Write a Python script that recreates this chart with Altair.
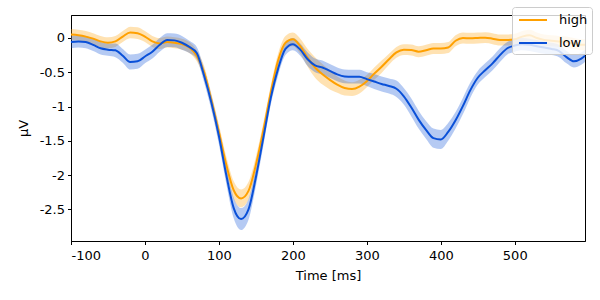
import altair as alt
import pandas as pd

# Sample times (ms)
times = [-100, -90, -80, -70, -60, -50, -40, -30, -20, -10,
         0, 10, 20, 30, 40, 50, 60, 70, 80, 90,
         100, 110, 120, 130, 140, 150, 160, 170, 180, 190,
         200, 210, 220, 230, 240, 250, 260, 270, 280, 290,
         300, 310, 320, 330, 340, 350, 360, 370, 380, 390,
         400, 410, 420, 430, 440, 450, 460, 470, 480, 490,
         500, 510, 520, 530, 540, 550, 560, 570, 580, 590, 595]

# Mean amplitude (µV), condition "high"
high_mean = [0.05, 0.04, 0.02, -0.01, -0.05, -0.07, -0.05, 0.02, 0.08, 0.07,
             0.02, -0.05, -0.08, -0.06, -0.07, -0.09, -0.14, -0.26, -0.50, -0.92,
             -1.37, -1.85, -2.22, -2.34, -2.23, -1.85, -1.35, -0.80, -0.33, -0.07,
             -0.02, -0.12, -0.29, -0.43, -0.53, -0.61, -0.68, -0.73, -0.745, -0.71,
             -0.63, -0.52, -0.42, -0.31, -0.21, -0.17, -0.175, -0.20, -0.18, -0.155,
             -0.155, -0.14, -0.04, 0.0, -0.005, 0.0, 0.005, -0.01, -0.03, -0.03,
             -0.02, 0.02, 0.04, 0.0, -0.03, -0.04, -0.05, -0.06, -0.08, -0.10, -0.10]

# Confidence half-width, condition "high"
high_ci = [0.08, 0.08, 0.08, 0.08, 0.08, 0.08, 0.08, 0.08, 0.085, 0.085,
           0.08, 0.08, 0.08, 0.08, 0.08, 0.08, 0.08, 0.08, 0.09, 0.1,
           0.11, 0.12, 0.13, 0.13, 0.13, 0.12, 0.11, 0.1, 0.1, 0.1,
           0.1, 0.11, 0.13, 0.15, 0.15, 0.14, 0.12, 0.11, 0.1, 0.1,
           0.09, 0.09, 0.09, 0.08, 0.08, 0.08, 0.08, 0.08, 0.08, 0.08,
           0.08, 0.08, 0.08, 0.08, 0.08, 0.08, 0.08, 0.08, 0.08, 0.08,
           0.08, 0.08, 0.08, 0.08, 0.08, 0.08, 0.08, 0.08, 0.08, 0.08, 0.08]

# Mean amplitude (µV), condition "low"
low_mean = [-0.06, -0.05, -0.06, -0.10, -0.15, -0.17, -0.18, -0.26, -0.35, -0.34,
            -0.27, -0.20, -0.10, -0.03, -0.035, -0.07, -0.13, -0.22, -0.55, -0.95,
            -1.43, -2.00, -2.48, -2.64, -2.50, -2.03, -1.46, -0.88, -0.45, -0.16,
            -0.09, -0.17, -0.31, -0.40, -0.43, -0.48, -0.53, -0.56, -0.565, -0.565,
            -0.60, -0.635, -0.67, -0.70, -0.74, -0.85, -1.01, -1.19, -1.34, -1.46,
            -1.48, -1.37, -1.20, -0.99, -0.76, -0.58, -0.47, -0.37, -0.25, -0.15,
            -0.11, -0.09, -0.10, -0.12, -0.14, -0.16, -0.19, -0.28, -0.34, -0.30, -0.26]

# Confidence half-width, condition "low"
low_ci = [0.09, 0.09, 0.09, 0.09, 0.09, 0.09, 0.1, 0.1, 0.11, 0.11,
          0.1, 0.1, 0.1, 0.1, 0.1, 0.1, 0.09, 0.09, 0.1, 0.11,
          0.12, 0.13, 0.15, 0.16, 0.15, 0.13, 0.12, 0.1, 0.1, 0.09,
          0.09, 0.09, 0.1, 0.1, 0.1, 0.1, 0.1, 0.1, 0.1, 0.1,
          0.1, 0.11, 0.11, 0.11, 0.12, 0.12, 0.13, 0.13, 0.13, 0.14,
          0.14, 0.13, 0.12, 0.12, 0.11, 0.1, 0.1, 0.1, 0.1, 0.09,
          0.09, 0.09, 0.09, 0.09, 0.09, 0.09, 0.09, 0.09, 0.09, 0.09, 0.09]

conditions = ["high", "low"]
colors = ["#ffa000", "#0a50d8"]

x_ticks = [-100, 0, 100, 200, 300, 400, 500]
y_ticks = [0, -0.5, -1, -1.5, -2, -2.5]

rows = []
for cond, means, cis in [("high", high_mean, high_ci), ("low", low_mean, low_ci)]:
    for t, m, c in zip(times, means, cis):
        rows.append({"condition": cond, "time": t, "mean": m,
                     "lo": m - c, "hi": m + c})
df = pd.DataFrame(rows)

FONT = "DejaVu Sans"
# Long horizontal swatch for the legend entries (wider than the symbol slot)
SWATCH = "M-0.75,0H2.75"

x_enc = alt.X("time:Q",
              scale=alt.Scale(domain=[-100, 595], nice=False, zero=False),
              axis=alt.Axis(values=x_ticks, title="Time [ms]",
                            labelExpr="toString(datum.value)"))
y_scale = alt.Scale(domain=[-2.96, 0.335], nice=False, zero=False)
y_axis = alt.Axis(values=y_ticks, title="µV", labelExpr="toString(datum.value)")
legend = alt.Legend(title=None, orient="none", legendX=441, legendY=-8,
                    symbolType=SWATCH)
color_enc = alt.Color("condition:N",
                      scale=alt.Scale(domain=conditions, range=colors),
                      legend=legend)

bands = alt.Chart(df).mark_area(opacity=0.3, interpolate="monotone").encode(
    x=x_enc,
    y=alt.Y("lo:Q", scale=y_scale, axis=y_axis),
    y2="hi:Q",
    color=color_enc,
)

lines = alt.Chart(df).mark_line(strokeWidth=2, interpolate="monotone").encode(
    x=x_enc,
    y=alt.Y("mean:Q", scale=y_scale, axis=y_axis),
    color=color_enc,
)

chart = alt.layer(bands, lines).properties(
    width=514, height=226,
    autosize=alt.AutoSizeParams(type="none"),
    padding={"left": 71, "top": 15, "right": 15, "bottom": 59},
).configure_view(
    stroke="black", strokeWidth=1
).configure_axis(
    grid=False,
    domainColor="black",
    tickColor="black",
    tickSize=3.5,
    labelPadding=3,
    labelColor="black",
    labelFont=FONT,
    labelFontSize=13,
    titleFont=FONT,
    titleFontSize=13,
    titleFontWeight="normal",
    titleColor="black",
).configure_axisX(
    labelPadding=4.5,
    titlePadding=7,
).configure_axisY(
    titlePadding=9,
).configure_legend(
    symbolType=SWATCH,
    symbolSize=256,
    symbolStrokeWidth=2,
    symbolOpacity=1,
    symbolFillColor="transparent",
    labelFont=FONT,
    labelFontSize=13,
    labelColor="black",
    labelOffset=25,
    padding=4,
    rowPadding=7,
    fillColor="rgba(255,255,255,0.8)",
    strokeColor="#cccccc",
    cornerRadius=3,
)

chart.save("out.html", embed_options={"renderer": "svg", "actions": False})
